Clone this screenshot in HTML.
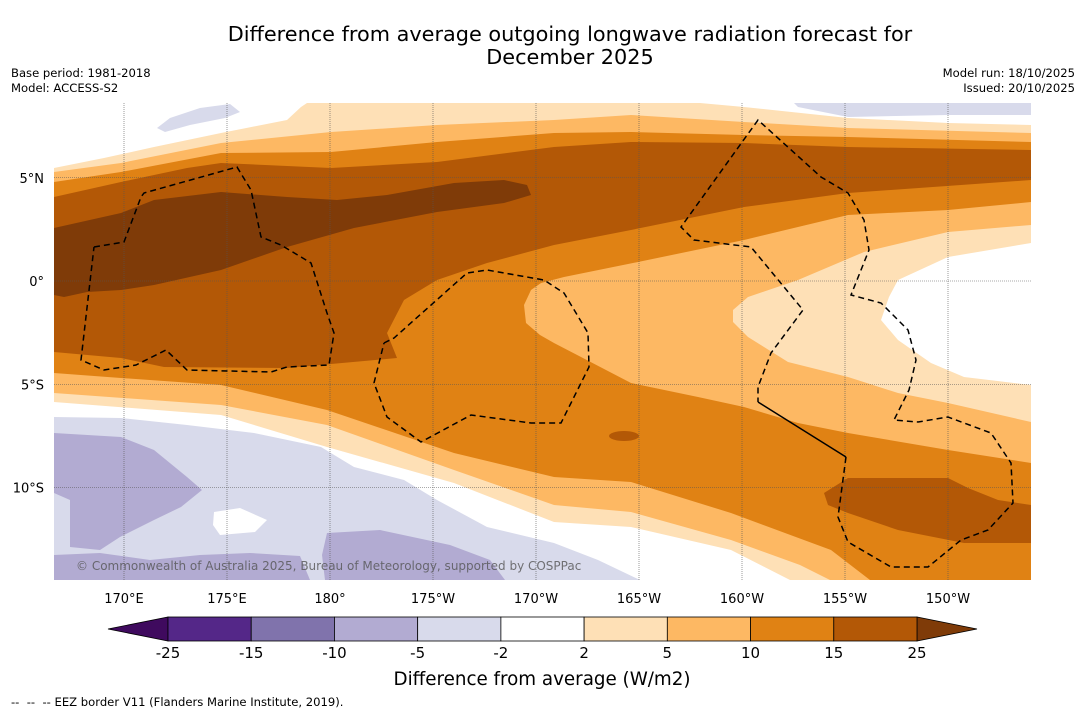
<!DOCTYPE html>
<html><head><meta charset="utf-8">
<style>
body{margin:0;background:#fff;width:1085px;height:713px;overflow:hidden;font-family:"Liberation Sans","DejaVu Sans",sans-serif;}
svg text{font-family:"DejaVu Sans","Liberation Sans",sans-serif;}
</style></head>
<body>
<svg id="chart" width="1085" height="713" viewBox="0 0 1085 713" xmlns="http://www.w3.org/2000/svg">
<rect width="1085" height="713" fill="#fff"/>
<text x="570" y="41" font-size="20.8" text-anchor="middle" fill="#000">Difference from average outgoing longwave radiation forecast for</text>
<text x="570" y="64" font-size="20.8" text-anchor="middle" fill="#000">December 2025</text>
<text x="11" y="77" font-size="11.6">Base period: 1981-2018</text>
<text x="11" y="92" font-size="11.6">Model: ACCESS-S2</text>
<text x="1075" y="77" font-size="11.6" text-anchor="end">Model run: 18/10/2025</text>
<text x="1075" y="92" font-size="11.6" text-anchor="end">Issued: 20/10/2025</text>

<defs><clipPath id="mapclip"><rect x="54" y="103" width="977" height="477"/></clipPath></defs>
<g id="map" clip-path="url(#mapclip)">
<rect x="54" y="103" width="977" height="477" fill="#fff"/>
<polygon fill="#d8daeb" points="54,417 121,418 187,425 254,433 321,447 354,467 404,480 437,500 487,527 554,543 598,560 640,580 54,580"/>
<polygon fill="#fff" points="214,512 240,508 267,520 255,532 220,535 213,525"/>
<polygon fill="#b2abd2" points="54,433 121,437 154,450 187,477 202,490 181,507 154,520 120,537 100,550 70,547 70,500 54,493"/>
<polygon fill="#b2abd2" points="54,555 100,553 150,560 200,555 250,553 300,556 310,580 54,580"/>
<polygon fill="#b2abd2" points="327,533 380,530 450,545 490,560 505,580 325,580 322,555"/>
<polygon fill="#d8daeb" points="157,128 170,118 200,108 230,104 240,112 225,118 190,125 165,132"/>
<polygon fill="#d8daeb" points="794,103 1031,103 1031,115 948,115 848,117 798,107"/>
<polygon fill="#fee0b6" points="54,168 104,158 154,147 221,133 287,120 301,107 307,103 700,103 744,107 848,118 948,123 1031,125 1031,580 790,580 731,550 631,527 554,522 454,483 327,447 221,415 54,402"/>
<polygon fill="#fdb863" points="54,172 121,163 221,143 331,132 437,125 554,120 631,115 744,122 848,128 1031,133 1031,580 830,580 800,565 731,540 631,512 554,505 454,470 327,425 221,405 54,393"/>
<polygon fill="#e08214" points="54,182 121,172 221,153 331,152 437,142 554,133 631,132 744,135 848,137 1031,142 1031,580 870,580 831,550 731,513 631,482 554,477 454,453 327,410 221,385 121,378 54,373"/>
<polygon fill="#fdb863" points="1031,202 948,210 848,215 744,240 638,262 564,277 541,283 531,290 524,305 526,323 540,335 554,343 581,357 631,383 698,397 744,407 798,423 848,433 948,450 1031,463"/>
<polygon fill="#fee0b6" points="1031,225 948,232 864,252 798,280 748,297 733,310 733,322 748,337 788,362 848,377 898,393 948,403 1031,422"/>
<polygon fill="#fff" points="1031,243 948,257 898,280 889,297 881,320 898,340 931,363 964,377 1031,385"/>
<polygon fill="#b35806" points="54,197 121,182 187,168 221,163 331,168 437,162 554,147 631,142 744,143 848,147 1031,150 1031,180 848,193 744,207 631,230 554,245 487,263 437,280 404,300 387,333 397,358 287,368 164,367 121,358 54,352"/>
<polygon fill="#b35806" points="824,493 848,478 948,478 968,488 998,500 1031,505 1031,543 964,543 898,530 848,513 828,505"/>
<ellipse fill="#b35806" cx="624" cy="436" rx="15" ry="5"/>
<polygon fill="#7f3b08" points="54,228 121,213 154,200 221,192 287,197 337,200 387,195 454,183 504,180 527,185 531,195 504,203 437,212 354,228 287,247 221,270 154,285 121,290 87,292 64,297 54,295"/>
<g id="grid" stroke="#555" stroke-width="0.6" stroke-dasharray="1,1" fill="none"></g>
<g fill="none" stroke="#000" stroke-width="1.5">
<polyline stroke-dasharray="6,4" points="94,247 124,242 141,197 144,193 237,167 251,190 261,237 281,245 311,263 327,313 334,333 329,365 287,367 271,372 187,370 166,350 136,365 104,370 81,360 94,247"/>
<polyline stroke-dasharray="6,4" points="384,343 394,338 467,273 487,270 544,280 564,293 588,333 589,367 561,423 531,423 471,415 421,442 387,417 374,383 384,343"/>
<polyline stroke-dasharray="6,4" points="846,457 838,517 848,542 891,567 928,567 961,540 988,530 1013,503 1011,463 991,433 948,417 918,422 894,420 909,390 916,360 908,330 881,303 851,295 869,250 864,220 848,193 821,177 758,120 681,227 694,240 751,247 803,310 771,353 758,387 758,402"/>
<line x1="758" y1="402" x2="846" y2="457"/>
</g>
<text x="76" y="570" font-size="12" fill="#555" opacity="0.8">© Commonwealth of Australia 2025, Bureau of Meteorology, supported by COSPPac</text>
</g>
<g id="axes"></g>
<g id="cbar"></g>
<text x="542" y="685" font-size="18.3" text-anchor="middle">Difference from average (W/m2)</text>
<text x="11" y="706" font-size="11.6">-- &#160;-- &#160;-- EEZ border V11 (Flanders Marine Institute, 2019).</text>
</svg>
<script>
const NS = "http://www.w3.org/2000/svg";
const lonTicks = [170, 175, 180, -175, -170, -165, -160, -155, -150];
const lonLabels = ["170°E","175°E","180°","175°W","170°W","165°W","160°W","155°W","150°W"];
const latTicks = [5, 0, -5, -10];
const latLabels = ["5°N","0°","5°S","10°S"];
const cbarLevels = ["-25","-15","-10","-5","-2","2","5","10","15","25"];
const cbarColors = ["#542788","#8073ac","#b2abd2","#d8daeb","#ffffff","#fee0b6","#fdb863","#e08214","#b35806"];
const cbarUnder = "#3f0a5e";
const cbarOver = "#7f3b08";

function xLon(lon){ const e = lon < 0 ? lon + 360 : lon; return 124 + (e - 170) * 20.6; }
function yLat(lat){ return 281 - lat * 20.65; }

const grid = document.getElementById('grid');
const axes = document.getElementById('axes');
lonTicks.forEach((lon, i) => {
  const x = xLon(lon);
  const l = document.createElementNS(NS, 'line');
  
  
  l.setAttribute('x1', x); l.setAttribute('x2', x); l.setAttribute('y1', 103); l.setAttribute('y2', 580);
  grid.appendChild(l);
  const t = document.createElementNS(NS, 'text');
  
  
  t.setAttribute('x', x); t.setAttribute('y', 603); t.setAttribute('font-size', '13'); t.setAttribute('text-anchor', 'middle');
  t.textContent = lonLabels[i];
  axes.appendChild(t);
});
latTicks.forEach((lat, i) => {
  const y = yLat(lat);
  const l = document.createElementNS(NS, 'line');
  
  
  l.setAttribute('x1', 54); l.setAttribute('x2', 1031); l.setAttribute('y1', y); l.setAttribute('y2', y);
  grid.appendChild(l);
  const t = document.createElementNS(NS, 'text');
  
  
  t.setAttribute('x', 44); t.setAttribute('y', y + 5); t.setAttribute('font-size', '13'); t.setAttribute('text-anchor', 'end');
  t.textContent = latLabels[i];
  axes.appendChild(t);
});

const cbar = document.getElementById('cbar');
const cx0 = 168, cx1 = 917, cy = 617, ch = 24;
const seg = (cx1 - cx0) / cbarColors.length;
function xCb(i){ return cx0 + i * seg; }
const under = document.createElementNS(NS, 'polygon');


under.setAttribute('points', `${cx0},${cy} ${cx0},${cy+ch} 108,${cy+ch/2}`);
under.setAttribute('fill', cbarUnder); under.setAttribute('stroke', '#000'); under.setAttribute('stroke-width', '0.8');
cbar.appendChild(under);
const over = document.createElementNS(NS, 'polygon');


over.setAttribute('points', `${cx1},${cy} ${cx1},${cy+ch} 977,${cy+ch/2}`);
over.setAttribute('fill', cbarOver); over.setAttribute('stroke', '#000'); over.setAttribute('stroke-width', '0.8');
cbar.appendChild(over);
cbarColors.forEach((c, i) => {
  const r = document.createElementNS(NS, 'rect');
  
  
  r.setAttribute('x', xCb(i)); r.setAttribute('y', cy); r.setAttribute('width', seg); r.setAttribute('height', ch);
  r.setAttribute('fill', c); r.setAttribute('stroke', '#000'); r.setAttribute('stroke-width', '0.8');
  cbar.appendChild(r);
});
cbarLevels.forEach((lv, i) => {
  const t = document.createElementNS(NS, 'text');
  
  
  t.setAttribute('x', xCb(i)); t.setAttribute('y', 658); t.setAttribute('font-size', '15'); t.setAttribute('text-anchor', 'middle');
  t.textContent = lv;
  cbar.appendChild(t);
});
</script>
</body></html>
